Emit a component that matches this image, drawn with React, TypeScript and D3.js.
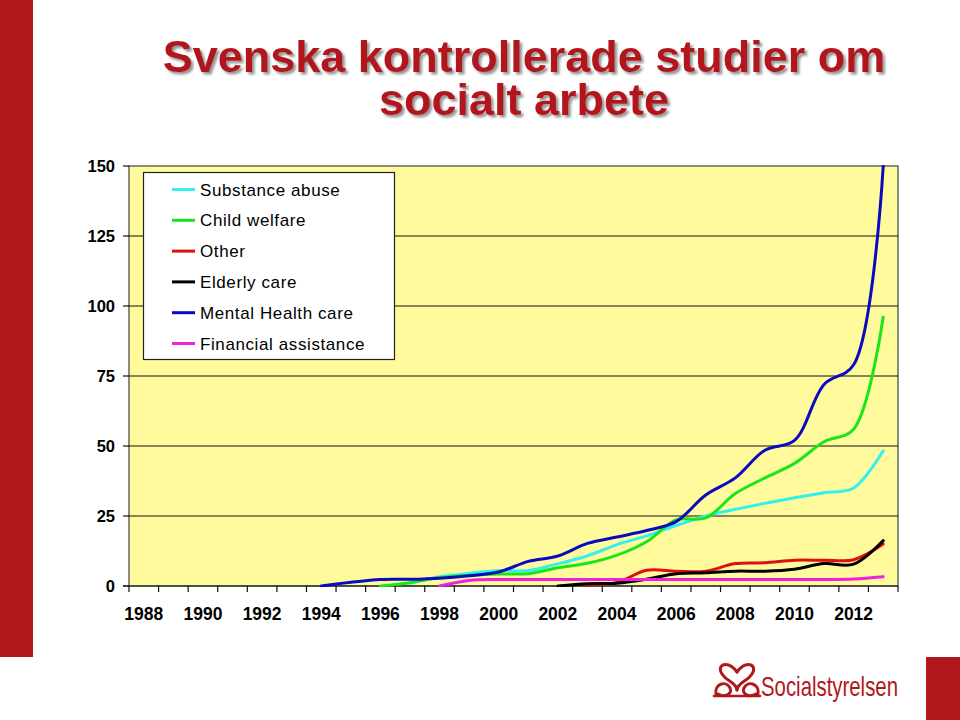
import React from "react";
import * as d3 from "d3";

const years = d3.range(1988, 2014);
const xTickLabels = ["1988","1990","1992","1994","1996","1998","2000","2002","2004","2006","2008","2010","2012"];
const yTicks = [0, 25, 50, 75, 100, 125, 150];

type V = number | null;
const N = null;
// 1988 ... 2013
const substanceAbuse: V[] = [N,N,N,N,N,N,N,N,N, 1.0,3.3,4.5,5.5,5.5,7.9,10.8,14.8,17.9,21.6,25,27.4,29.5,31.5,33.3,35,48.3];
const childWelfare: V[] = [N,N,N,N,N,N,N,N, 0,1.2,3.0,3.8,4.3,4.4,6.5,8.1,11,15.8,23.6,24.3,33,38.6,43.8,51.5,56,96];
const other: V[] = [N,N,N,N,N,N,N,N,N,N,N,N,N,N,N, 0.3,1.3,5.6,5.3,5.3,8.0,8.3,9.2,9.2,9.4,15];
const elderlyCare: V[] = [N,N,N,N,N,N,N,N,N,N,N,N,N,N, 0,0.8,1.0,2.4,4.4,4.7,5.3,5.3,6.0,8.0,7.8,16.2];
const mentalHealth: V[] = [N,N,N,N,N,N, 0,1.3,2.3,2.4,2.8,3.7,5,8.8,10.7,15.2,17.5,19.8,23,32.5,38.6,48.5,52,72,79,150];
const financial: V[] = [N,N,N,N,N,N,N,N,N,N, 0,2.0,2.3,2.3,2.3,2.3,2.3,2.3,2.3,2.3,2.3,2.3,2.3,2.3,2.5,3.3];

const seriesNames = ["Substance abuse","Child welfare","Other","Elderly care","Mental Health care","Financial assistance"];
const seriesColors = ["#33f0f0","#19e619","#e01010","#000000","#0a0ac0","#f020e0"];
const seriesData = [substanceAbuse, childWelfare, other, elderlyCare, mentalHealth, financial];

const RED = "#b2171b";

export default function App() {
  const L = 129, R = 898, T = 166, B = 586;
  const x = d3.scaleBand<number>().domain(years).range([L, R]).padding(0);
  const y = d3.scaleLinear().domain([0, 150]).range([B, T]);
  const cx = (yr: number) => (x(yr) as number) + x.bandwidth() / 2;
  const line = d3
    .line<[number, V]>()
    .defined((d) => d[1] !== null)
    .x((d) => cx(d[0]))
    .y((d) => y(d[1] as number))
    .curve(d3.curveCatmullRom.alpha(0.5));

  const boundaries = years.map((yr) => x(yr) as number).concat([R]);

  return (
    <svg width={960} height={720} style={{ position: "absolute", left: 0, top: 0, background: "#fff" }}
      fontFamily="'Liberation Sans', Arial, sans-serif">
      <defs>
        <filter id="ts" x="-5%" y="-20%" width="110%" height="150%">
          <feDropShadow dx="2.5" dy="2.5" stdDeviation="1" floodColor="#7a7a7a" floodOpacity="0.8" />
        </filter>
        <clipPath id="plotclip">
          <rect x={L} y={T - 1} width={R - L} height={B - T + 2} />
        </clipPath>
      </defs>
      <rect x={0} y={0} width={33} height={657} fill={RED} />
      <rect x={926} y={657} width={34} height={63} fill={RED} />

      <g filter="url(#ts)" fill={RED} fontWeight="bold" fontSize={45} textAnchor="middle">
        <text x={524} y={72}>Svenska kontrollerade studier om</text>
        <text x={524} y={115}>socialt arbete</text>
      </g>

      <rect x={L} y={T} width={R - L} height={B - T} fill="#fffb9c" stroke="#404040" strokeWidth={1.2} />
      {yTicks.filter((t) => t > 0 && t < 150).map((t) => (
        <line key={t} x1={L} x2={R} y1={y(t)} y2={y(t)} stroke="#111" strokeWidth={1.2} />
      ))}
      {yTicks.map((t) => (
        <g key={"yt" + t}>
          <line x1={L - 6} x2={L} y1={y(t)} y2={y(t)} stroke="#111" strokeWidth={1.2} />
          <text x={115} y={y(t) + 6} textAnchor="end" fontSize={16.5} fontWeight="bold" fill="#000">{t}</text>
        </g>
      ))}
      <line x1={L - 6} x2={R} y1={B} y2={B} stroke="#111" strokeWidth={1.2} />
      {boundaries.map((bx, i) => (
        <line key={"xt" + i} x1={bx} x2={bx} y1={B} y2={B + 6} stroke="#111" strokeWidth={1.2} />
      ))}
      {xTickLabels.map((lab) => (
        <text key={lab} x={cx(+lab)} y={620} textAnchor="middle" fontSize={17.5} fontWeight="bold" fill="#000">{lab}</text>
      ))}

      <g clipPath="url(#plotclip)">
        {seriesData.map((s, i) => (
          <path key={seriesNames[i]} d={line(years.map((yr, j) => [yr, s[j]] as [number, V])) || ""}
            fill="none" stroke={seriesColors[i]} strokeWidth={3} strokeLinejoin="round" strokeLinecap="round" />
        ))}
      </g>

      <rect x={143.5} y={172.5} width={251} height={187} fill="#fff" stroke="#222" strokeWidth={1.2} />
      {seriesNames.map((n, i) => (
        <g key={"lg" + n} transform={`translate(0, ${189.5 + i * 30.8})`}>
          <line x1={172} x2={195} y1={0} y2={0} stroke={seriesColors[i]} strokeWidth={3} />
          <text x={200} y={6} fontSize={17} fill="#000" letterSpacing={0.6}>{n}</text>
        </g>
      ))}

      <g stroke={RED} strokeWidth={3} fill="none" strokeLinecap="round">
        <path d="M737 672 C728 660 716 664 722 674 C727 682 736 682 737 690" />
        <path d="M737 672 C746 660 758 664 752 674 C747 682 738 682 737 690" />
        <path d="M716 694 C714 684 726 680 730 688 C733 694 724 698 718 694" />
        <path d="M758 694 C760 684 748 680 744 688 C741 694 750 698 756 694" />
        <path d="M714 696 L760 696" strokeWidth={2.5} />
      </g>
      <text x={761} y={696} fontSize={28} fill={RED} textLength={137} lengthAdjust="spacingAndGlyphs">Socialstyrelsen</text>
    </svg>
  );
}
